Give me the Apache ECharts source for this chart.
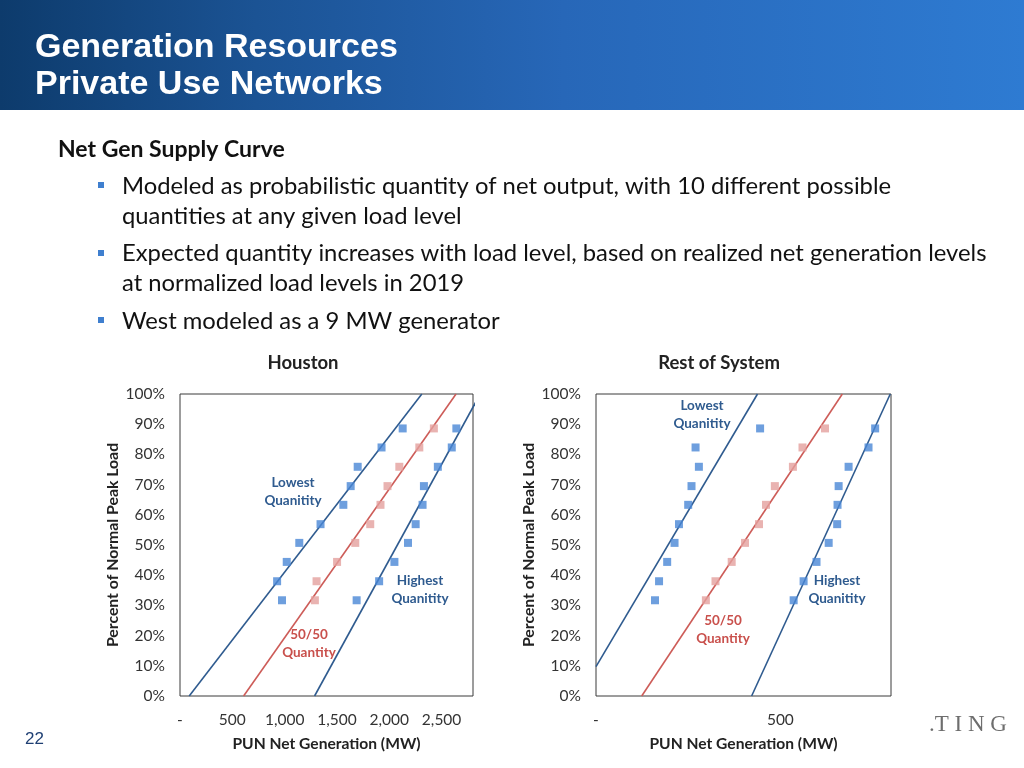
<!DOCTYPE html>
<html>
<head>
<meta charset="utf-8">
<script src="https://cdn.jsdelivr.net/npm/echarts@6/dist/echarts.min.js"></script>
<style>
html,body{margin:0;padding:0;background:#fff;}
#main{width:1024px;height:768px;}
</style>
</head>
<body>
<div id="main"></div>
<script>
// ---- Data ----
const loadLevels = [0.317, 0.380, 0.444, 0.507, 0.569, 0.633, 0.695, 0.759, 0.823, 0.886];

const houstonLowest  = [975, 928, 1020, 1140, 1343, 1561, 1631, 1698, 1926, 2128];
const houstonMid     = [1289, 1305, 1501, 1675, 1818, 1916, 1983, 2096, 2287, 2426];
const houstonHighest = [1688, 1903, 2049, 2179, 2252, 2318, 2331, 2464, 2597, 2641];

const restLowest  = [160, 171, 193, 213, 225, 250, 259, 279, 270, 445];
const restMid     = [298, 324, 368, 404, 442, 461, 485, 534, 560, 621];
const restHighest = [536, 563, 598, 631, 654, 655, 658, 685, 739, 757];

// Fitted lines: [netGen, load] end points
const houstonLowestLine  = [[88, 0], [2311, 1]];
const houstonMidLine     = [[608, 0], [2638, 1]];
const houstonHighestLine = [[1286, 0], [2869, 1]];
const restLowestLine  = [[0, 0.097], [438, 1]];
const restMidLine     = [[124, 0], [668, 1]];
const restHighestLine = [[422, 0], [798, 1]];

const houstonMax = 2800, restMax = 800;
const chartTitles = ['Houston', 'Rest of System'];
const yAxisName = 'Percent of Normal Peak Load';
const xAxisName = 'PUN Net Generation (MW)';

// ---- Styling ----
const BLUE_LINE = '#2f5b8f';
const RED_LINE = '#cd5c58';
const BLUE_PT = '#4a87d6';
const PINK_PT = '#e3a09d';
const FONT = 'Lato, "Open Sans", sans-serif';

function pts(xs) { return xs.map((x, i) => [x, loadLevels[i]]); }

function fmtX(v) {
  if (v === 0) return '-';
  return v.toLocaleString('en-US');
}

function xAxis(idx, max) {
  return {
    type: 'value', gridIndex: idx, min: 0, max: max, interval: 500,
    name: xAxisName, nameLocation: 'middle', nameGap: 40,
    nameTextStyle: {fontFamily: FONT, fontWeight: 'bold', fontSize: 15.6, color: '#222'},
    axisLine: {show: false}, axisTick: {show: false}, splitLine: {show: false},
    axisLabel: {formatter: fmtX, fontFamily: FONT, fontSize: 15.5, color: '#333', margin: 16, showMaxLabel: false}
  };
}
function yAxis(idx) {
  return {
    type: 'value', gridIndex: idx, min: 0, max: 1, interval: 0.1,
    name: yAxisName, nameLocation: 'middle', nameGap: 59, nameRotate: 90,
    nameTextStyle: {fontFamily: FONT, fontWeight: 'bold', fontSize: 15.8, color: '#222'},
    axisLine: {show: false}, axisTick: {show: false}, splitLine: {show: false},
    axisLabel: {formatter: v => Math.round(v * 100) + '%', fontFamily: FONT, fontSize: 15.5, color: '#333', margin: 15}
  };
}
function lineSeries(idx, data, color) {
  return {type: 'line', xAxisIndex: idx, yAxisIndex: idx, data: data, symbol: 'none',
    clip: true, lineStyle: {color: color, width: 1.6}, z: 2, silent: true};
}
function scatterSeries(idx, data, color) {
  return {type: 'scatter', xAxisIndex: idx, yAxisIndex: idx, data: data, symbol: 'rect',
    symbolSize: 8, itemStyle: {color: color}, z: 3, silent: true};
}

function annot(x, y, lines, color) {
  return {type: 'text', x: x, y: y, z: 10,
    style: {text: lines.join('\n'), fill: color, font: 'bold 13.5px ' + FONT, lineHeight: 18,
      align: 'center', verticalAlign: 'middle'}};
}
function ctext(x, y, text, font, fill) {
  return {type: 'text', x: x, y: y, z: 10,
    style: {text: text, fill: fill, font: font, align: 'center', verticalAlign: 'middle'}};
}

const chart = echarts.init(document.getElementById('main'), null, {renderer: 'canvas'});

const option = {
  animation: false,
  backgroundColor: '#ffffff',
  grid: [
    {left: 180, top: 394, width: 293, height: 302, show: true, borderColor: '#3a3a3a', borderWidth: 1, backgroundColor: 'transparent'},
    {left: 596, top: 394, width: 295, height: 302, show: true, borderColor: '#3a3a3a', borderWidth: 1, backgroundColor: 'transparent'}
  ],
  xAxis: [xAxis(0, houstonMax), xAxis(1, restMax)],
  yAxis: [yAxis(0), yAxis(1)],
  series: [
    lineSeries(0, houstonLowestLine, BLUE_LINE),
    lineSeries(0, houstonMidLine, RED_LINE),
    lineSeries(0, houstonHighestLine, BLUE_LINE),
    scatterSeries(0, pts(houstonLowest), BLUE_PT),
    scatterSeries(0, pts(houstonMid), PINK_PT),
    scatterSeries(0, pts(houstonHighest), BLUE_PT),
    lineSeries(1, restLowestLine, BLUE_LINE),
    lineSeries(1, restMidLine, RED_LINE),
    lineSeries(1, restHighestLine, BLUE_LINE),
    scatterSeries(1, pts(restLowest), BLUE_PT),
    scatterSeries(1, pts(restMid), PINK_PT),
    scatterSeries(1, pts(restHighest), BLUE_PT)
  ],
  graphic: [
    // header band
    {type: 'rect', left: 0, top: 0, z: 0, shape: {width: 1024, height: 110},
      style: {fill: new echarts.graphic.LinearGradient(0, 0, 1, 0, [
        {offset: 0, color: '#0d3b6c'}, {offset: 0.25, color: '#1b5394'},
        {offset: 0.55, color: '#2767b8'}, {offset: 1, color: '#2e7bd2'}])}},
    {type: 'text', left: 35, top: 31, z: 5,
      style: {text: 'Generation Resources', fill: '#ffffff', font: 'bold 34px "Liberation Sans", Arial, sans-serif'}},
    {type: 'text', left: 35, top: 68, z: 5,
      style: {text: 'Private Use Networks', fill: '#ffffff', font: 'bold 34px "Liberation Sans", Arial, sans-serif'}},
    // body text
    {type: 'text', left: 58, top: 136, z: 5,
      style: {text: 'Net Gen Supply Curve', fill: '#111', font: 'bold 23px ' + FONT, lineHeight: 28}},
    {type: 'rect', left: 98, top: 182, z: 5, shape: {width: 6, height: 6}, style: {fill: '#3f7fcf'}},
    {type: 'text', left: 122, top: 171, z: 5,
      style: {text: 'Modeled as probabilistic quantity of net output, with 10 different possible\nquantities at any given load level', fill: '#111', font: '23.8px ' + FONT, lineHeight: 30}},
    {type: 'rect', left: 98, top: 250, z: 5, shape: {width: 6, height: 6}, style: {fill: '#3f7fcf'}},
    {type: 'text', left: 122, top: 238, z: 5,
      style: {text: 'Expected quantity increases with load level, based on realized net generation levels\nat normalized load levels in 2019', fill: '#111', font: '23.8px ' + FONT, lineHeight: 30}},
    {type: 'rect', left: 98, top: 317, z: 5, shape: {width: 6, height: 6}, style: {fill: '#3f7fcf'}},
    {type: 'text', left: 122, top: 306, z: 5,
      style: {text: 'West modeled as a 9 MW generator', fill: '#111', font: '23.8px ' + FONT, lineHeight: 30}},
    // chart titles
    ctext(303, 363, chartTitles[0], 'bold 18.5px ' + FONT, '#222'),
    ctext(719, 363, chartTitles[1], 'bold 18.5px ' + FONT, '#222'),
    // annotations
    annot(293, 492, ['Lowest', 'Quanitity'], '#2f5b8f'),
    annot(420, 590, ['Highest', 'Quanitity'], '#2f5b8f'),
    annot(309, 644, ['50/50', 'Quantity'], '#c9504c'),
    annot(702, 415, ['Lowest', 'Quanitity'], '#2f5b8f'),
    annot(837, 590, ['Highest', 'Quanitity'], '#2f5b8f'),
    annot(723, 630, ['50/50', 'Quantity'], '#c9504c'),
    // footer
    {type: 'text', left: 25, top: 731, z: 5,
      style: {text: '22', fill: '#1f3f73', font: '17px "Liberation Sans", Arial, sans-serif'}},
    {type: 'text', left: 929, top: 713, z: 5,
      style: {text: '.T I N G', fill: '#6e6e6e', font: '23px "Liberation Serif", "DejaVu Serif", serif'}}
  ]
};
chart.setOption(option);
</script>
</body>
</html>
